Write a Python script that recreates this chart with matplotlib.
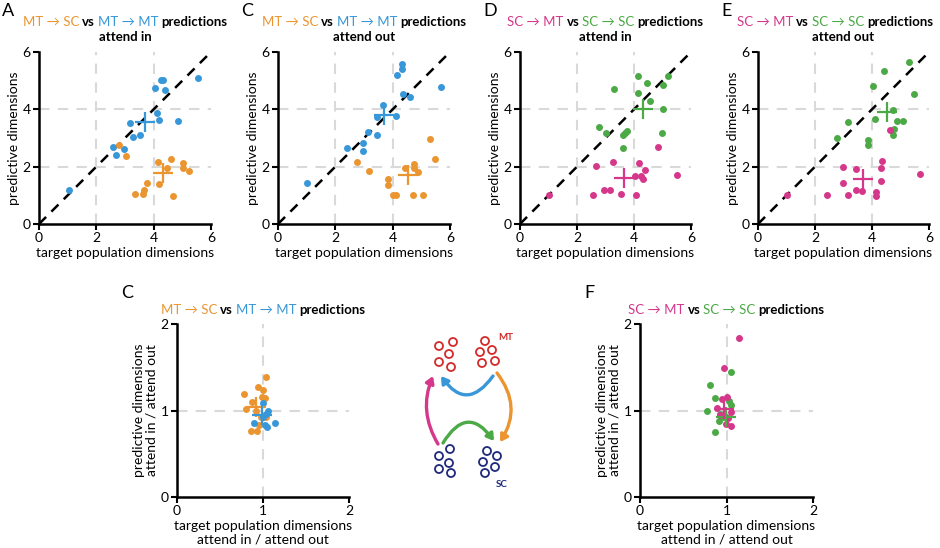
import matplotlib
matplotlib.use("Agg")
import matplotlib.pyplot as plt
from matplotlib.patches import Circle, FancyArrowPatch

plt.rcParams['font.family'] = ['Lato', 'DejaVu Sans']
plt.rcParams['font.size'] = 9

ORANGE = '#EB9530'
BLUE = '#3897D8'
GREEN = '#4BA946'
MAGENTA = '#D5378A'
MT_RED = '#D42A2A'
SC_NAVY = '#1F2A7A'

# ---- panel A: MT attend in ----
a_mtmt_x = [1.04, 2.57, 2.70, 2.95, 3.19, 3.29, 3.54, 4.03, 4.10, 4.19, 4.26, 4.33, 4.39, 4.86, 5.53]
a_mtmt_y = [1.20, 2.67, 2.40, 2.60, 3.53, 3.05, 3.11, 4.75, 3.88, 3.62, 5.02, 5.03, 4.67, 3.60, 5.10]
a_mtsc_x = [2.79, 3.02, 3.34, 3.62, 3.68, 3.76, 4.16, 4.19, 4.46, 4.59, 4.67, 5.02, 5.02, 5.23]
a_mtsc_y = [2.74, 2.37, 1.04, 1.04, 1.19, 1.44, 2.17, 1.40, 1.95, 2.25, 0.99, 2.14, 1.95, 1.86]
a_mean_mtmt = (3.71, 3.57)
a_mean_mtsc = (4.31, 1.77)

# ---- panel C (top): MT attend out ----
c_mtmt_x = [1.01, 2.40, 2.98, 2.98, 3.15, 3.45, 3.45, 3.65, 4.12, 4.14, 4.31, 4.32, 4.35, 4.60, 5.67]
c_mtmt_y = [1.44, 2.66, 2.82, 2.56, 3.20, 3.73, 3.09, 4.14, 3.75, 5.20, 5.42, 5.58, 4.52, 4.43, 4.79]
c_mtsc_x = [2.75, 3.16, 3.83, 3.84, 4.01, 4.10, 4.43, 4.71, 4.74, 4.75, 4.87, 5.07, 5.29, 5.48]
c_mtsc_y = [2.17, 1.84, 1.58, 1.36, 1.00, 1.00, 1.97, 1.00, 2.09, 1.95, 1.83, 1.00, 2.95, 2.25]
c_mean_mtmt = (3.69, 3.81)
c_mean_mtsc = (4.53, 1.71)

# ---- panel D: SC attend in ----
d_scsc_x = [3.31, 2.77, 3.01, 3.62, 3.69, 3.76, 3.60, 4.15, 4.14, 4.45, 4.57, 5.00, 5.21, 5.03, 4.99]
d_scsc_y = [4.71, 3.37, 3.19, 3.12, 3.19, 3.23, 2.66, 5.15, 4.56, 4.91, 4.29, 4.84, 5.15, 4.01, 3.18]
d_scmt_x = [1.02, 2.57, 2.66, 2.93, 3.17, 3.27, 3.53, 4.02, 4.07, 4.18, 4.24, 4.31, 4.38, 4.83, 5.51]
d_scmt_y = [1.01, 1.00, 2.04, 1.19, 1.17, 2.18, 1.03, 1.66, 1.00, 2.13, 1.66, 1.58, 1.88, 2.68, 1.70]
d_mean_scsc = (4.32, 4.01)
d_mean_scmt = (3.65, 1.59)

# ---- panel E: SC attend out ----
e_scsc_x = [2.77, 3.16, 3.86, 3.86, 4.02, 4.12, 4.43, 4.74, 4.76, 4.73, 4.89, 5.09, 5.49, 5.30]
e_scsc_y = [2.99, 3.55, 2.92, 2.76, 4.82, 3.66, 5.34, 3.96, 3.33, 3.12, 3.58, 3.61, 4.54, 5.65]
e_scmt_x = [1.01, 2.41, 2.99, 2.99, 3.16, 3.44, 3.45, 3.66, 4.14, 4.14, 4.32, 4.33, 4.36, 4.63, 5.67]
e_scmt_y = [1.01, 1.01, 1.98, 1.44, 1.00, 1.92, 1.19, 1.15, 1.10, 0.99, 1.51, 1.95, 2.21, 3.27, 1.75]
e_mean_scsc = (4.53, 3.89)
e_mean_scmt = (3.70, 1.56)

# ---- bottom C: MT ratios (attend in / attend out) ----
rc_mtsc_x = [1.035, 0.776, 0.946, 1.004, 0.988, 1.027, 0.869, 0.803, 0.919, 0.973, 0.954, 0.861, 0.934, 1.04]
rc_mtsc_y = [1.39, 1.19, 1.27, 1.24, 1.16, 1.14, 1.10, 1.02, 1.00, 0.92, 0.83, 0.76, 0.76, 0.93]
rc_mtmt_x = [1.004, 1.06, 0.896, 1.02, 1.05, 1.14, 0.996, 1.04]
rc_mtmt_y = [1.09, 1.00, 0.85, 0.83, 0.81, 0.86, 0.93, 0.96]
rc_mean_mtsc = (0.92, 1.04)
rc_mean_mtmt = (0.985, 0.95)

# ---- bottom F: SC ratios ----
rf_scmt_x = [1.14, 0.973, 1.00, 0.95, 0.89, 1.05, 0.99, 1.05, 1.02, 0.92]
rf_scmt_y = [1.84, 1.49, 1.16, 1.13, 1.03, 0.98, 0.84, 0.82, 0.91, 0.95]
rf_scsc_x = [1.05, 0.81, 0.87, 0.78, 0.87, 1.03, 1.05, 0.92, 0.91, 0.99, 0.96]
rf_scsc_y = [1.45, 1.29, 1.15, 1.00, 0.75, 1.11, 1.06, 0.96, 0.88, 0.92, 0.92]
rf_mean_scmt = (0.97, 1.02)
rf_mean_scsc = (0.99, 0.93)

top_ticks = [0, 2, 4, 6]
top_grid = [2, 4]
bot_ticks = [0, 1, 2]
bot_grid = [1]

W, H = 940, 548
fig = plt.figure(figsize=(W / 100, H / 100), dpi=100)
renderer = fig.canvas.get_renderer()


def px_axes(x0, x1, ytop, ybot):
    return fig.add_axes([x0 / W, 1 - ybot / H, (x1 - x0) / W, (ybot - ytop) / H])


def style(ax, ticks, grid, diag):
    lim = (ticks[0], ticks[-1])
    ax.set_xlim(lim)
    ax.set_ylim(lim)
    ax.set_xticks(ticks)
    ax.set_yticks(ticks)
    for s in ['top', 'right']:
        ax.spines[s].set_visible(False)
    for s in ['left', 'bottom']:
        ax.spines[s].set_linewidth(1.8)
    ax.tick_params(direction='out', length=4, width=1.5, labelsize=10, pad=2)
    for g in grid:
        ax.axvline(g, color='#d9d9d9', lw=1.5, ls=(0, (5, 4)), zorder=0)
        ax.axhline(g, color='#d9d9d9', lw=1.5, ls=(0, (5, 4)), zorder=0)
    if diag:
        ax.plot(lim, lim, color='black', lw=1.8, ls=(0, (4, 3)), zorder=1)


def dots(ax, x, y, c, mean):
    ax.scatter(x, y, s=25, color=c, zorder=3, linewidths=0, clip_on=False)
    ax.plot(*mean, marker='+', ms=14, mew=1.6, color=c, zorder=4)


def colored_line(cx, ypx, pieces, size=9.5, gap=3.0, right_max=933):
    # pieces laid side by side, centred on cx (pixels), baseline at ypx from top
    texts = [fig.text(0, 1 - ypx / H, t, color=c, fontweight=w, fontsize=size, va='baseline', ha='left')
             for t, c, w in pieces]
    widths = [t.get_window_extent(renderer).width for t in texts]
    total = sum(widths) + gap * (len(widths) - 1)
    x = min(cx - total / 2, right_max - total)
    for t, w in zip(texts, widths):
        t.set_x(x / W)
        x += w + gap


mt_pieces = [('MT \u2192 SC', ORANGE, 'normal'), ('vs', 'black', 'bold'),
             ('MT \u2192 MT', BLUE, 'normal'), ('predictions', 'black', 'bold')]
sc_pieces = [('SC \u2192 MT', MAGENTA, 'normal'), ('vs', 'black', 'bold'),
             ('SC \u2192 SC', GREEN, 'normal'), ('predictions', 'black', 'bold')]

top = [
    (39, 211, 'A', mt_pieces, 'attend in', [(a_mtmt_x, a_mtmt_y, BLUE, a_mean_mtmt), (a_mtsc_x, a_mtsc_y, ORANGE, a_mean_mtsc)]),
    (278, 450, 'C', mt_pieces, 'attend out', [(c_mtmt_x, c_mtmt_y, BLUE, c_mean_mtmt), (c_mtsc_x, c_mtsc_y, ORANGE, c_mean_mtsc)]),
    (520, 691, 'D', sc_pieces, 'attend in', [(d_scsc_x, d_scsc_y, GREEN, d_mean_scsc), (d_scmt_x, d_scmt_y, MAGENTA, d_mean_scmt)]),
    (758, 929, 'E', sc_pieces, 'attend out', [(e_scsc_x, e_scsc_y, GREEN, e_mean_scsc), (e_scmt_x, e_scmt_y, MAGENTA, e_mean_scmt)]),
]
for x0, x1, lab, pieces, sub, series in top:
    ax = px_axes(x0, x1, 52, 224)
    style(ax, top_ticks, top_grid, True)
    for x, y, c, m in series:
        dots(ax, x, y, c, m)
    ax.set_xlabel('target population dimensions', fontsize=10, labelpad=2)
    ax.set_ylabel('predictive dimensions', fontsize=10, labelpad=2)
    cx = (x0 + x1) / 2
    colored_line(cx, 26, pieces)
    fig.text(cx / W, 1 - 41 / H, sub, fontsize=9.5, fontweight='bold', ha='center', va='baseline')
    fig.text((x0 - 37) / W, 1 - 3 / H, lab, fontsize=13, va='top', ha='left')

bottom = [
    (177, 349, 'C', mt_pieces, [(rc_mtsc_x, rc_mtsc_y, ORANGE, rc_mean_mtsc), (rc_mtmt_x, rc_mtmt_y, BLUE, rc_mean_mtmt)]),
    (640, 813, 'F', sc_pieces, [(rf_scsc_x, rf_scsc_y, GREEN, rf_mean_scsc), (rf_scmt_x, rf_scmt_y, MAGENTA, rf_mean_scmt)]),
]
for x0, x1, lab, pieces, series in bottom:
    ax = px_axes(x0, x1, 324, 497)
    style(ax, bot_ticks, bot_grid, False)
    for x, y, c, m in series:
        dots(ax, x, y, c, m)
    ax.set_xlabel('target population dimensions\nattend in / attend out', fontsize=10, labelpad=2, linespacing=1.1)
    ax.set_ylabel('predictive dimensions\nattend in / attend out', fontsize=10, labelpad=2, linespacing=1.1)
    colored_line((x0 + x1) / 2, 314, pieces)
    fig.text((x0 - 56) / W, 1 - 285 / H, lab, fontsize=13, va='top', ha='left')

# ---- schematic ----
dx0, dx1, dy0, dy1 = 420, 520, 330, 490
dax = px_axes(dx0, dx1, dy0, dy1)
dax.set_xlim(dx0, dx1)
dax.set_ylim(dy1, dy0)
dax.axis('off')

mt_left = [(439, 346), (453, 342), (449, 354), (439, 362), (451, 367)]
mt_right = [(485, 341), (480, 352), (492, 350), (482, 363), (495, 361)]
sc_left = [(450, 449), (439, 456), (449, 463), (439, 469), (451, 473)]
sc_right = [(487, 451), (483, 462), (497, 456), (495, 467), (485, 473)]
for pts, col in [(mt_left, MT_RED), (mt_right, MT_RED), (sc_left, SC_NAVY), (sc_right, SC_NAVY)]:
    for p in pts:
        dax.add_patch(Circle(p, 4, facecolor='white', edgecolor=col, lw=1.3))
dax.text(498, 337, 'MT', color=MT_RED, fontsize=7, fontweight='bold', ha='left', va='center')
dax.text(496, 484, 'SC', color=SC_NAVY, fontsize=7, fontweight='bold', ha='left', va='center')

arrows = [
    ((493, 376), (441, 376), -0.7, BLUE),
    ((497, 373), (500, 442), -0.35, ORANGE),
    ((443, 443), (494, 441), -0.75, GREEN),
    ((438, 444), (433, 376), -0.25, MAGENTA),
]
for start, end, rad, col in arrows:
    dax.add_patch(FancyArrowPatch(start, end, connectionstyle=f'arc3,rad={rad}',
                                  arrowstyle='-|>,head_length=4,head_width=2.5', color=col, lw=2.4,
                                  shrinkA=0, shrinkB=0))

fig.savefig('out.png', dpi=100)
